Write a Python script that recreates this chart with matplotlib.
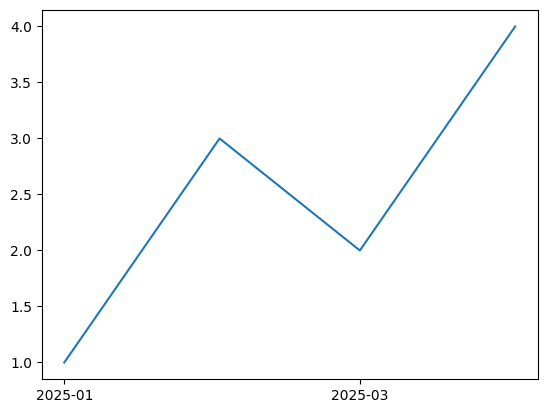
import matplotlib
matplotlib.use("Agg")
import matplotlib.pyplot as plt
import matplotlib.dates as mdates
import pandas as pd

dates = pd.to_datetime(["2025-01-01", "2025-02-01", "2025-03-01", "2025-04-01"])
values = [1, 3, 2, 4]

fig, ax = plt.subplots(figsize=(6.4, 4.8), dpi=100)
ax.plot(dates, values)
ax.xaxis.set_major_locator(mdates.MonthLocator(interval=2))
ax.xaxis.set_major_formatter(mdates.DateFormatter("%Y-%m"))

fig.savefig("out.png", bbox_inches="tight")
